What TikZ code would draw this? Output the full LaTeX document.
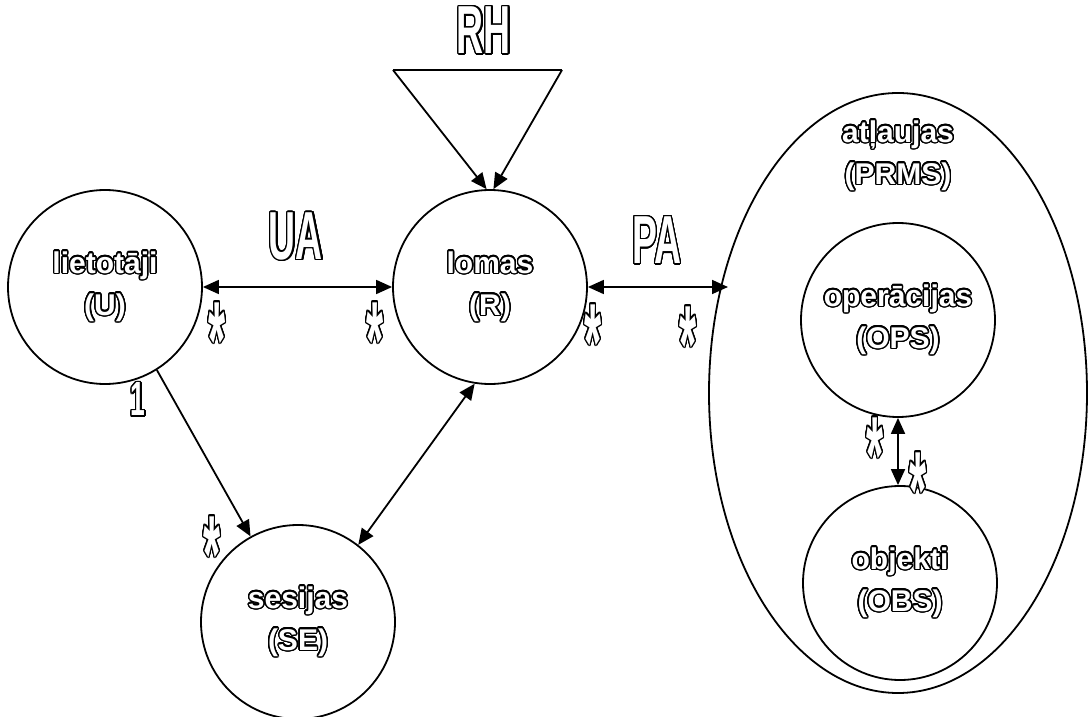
\documentclass[tikz,border=0pt]{standalone}
\usepackage{fontspec}
\setmainfont{Liberation Sans}
\newfontfamily\narrowfont[FakeStretch=0.55]{Liberation Sans}
\newfontfamily\starfamily[FakeStretch=0.4]{Liberation Sans}
\usepackage[copies]{contour}
\contourlength{1.4pt}
\contournumber{24}
\usetikzlibrary{arrows.meta,shapes.geometric}
\newcommand\olt[1]{\contour{black}{#1}}
\tikzset{
  set/.style={circle,draw,minimum size=194pt,inner sep=0pt,align=center,text=white,
    font=\fontsize{30}{42}\selectfont\bfseries},
  rel/.style={text=white,inner sep=0pt,font=\narrowfont\fontsize{68}{68}\selectfont\bfseries},
  mult/.style={text=white,inner sep=0pt,anchor=base,yshift=-60pt,
    font=\starfamily\fontsize{110}{110}\selectfont\bfseries}
}
\begin{document}
\begin{tikzpicture}[x=1pt,y=-1pt,line join=round,line width=1.8pt,>={Triangle[length=16pt,width=14pt]}]
\useasboundingbox (0,0) rectangle (1088,717);

\node[set] (users) at (105,287) {\olt{lietotāji}\\\olt{(U)}};
\node[set] (roles) at (490,287) {\olt{lomas}\\\olt{(R)}};
\node[set] (sessions) at (298,622) {\olt{sesijas}\\\olt{(SE)}};
\node[ellipse,draw,minimum width=378pt,minimum height=600pt,inner sep=0pt] (prms) at (898,393) {};
\node[set] (ops) at (898,320) {\olt{operācijas}\\\olt{(OPS)}};
\node[set] (objs) at (900,583) {\olt{objekti}\\\olt{(OBS)}};
\node[set,draw=none,minimum size=0pt] (prmsname) at (898,156) {\olt{atļaujas}\\\olt{(PRMS)}};

% role hierarchy
\coordinate (rhl) at (393,70);
\coordinate (rhr) at (562,70);
\draw (rhl) -- (rhr);
\draw[->] (rhl) -- (roles.92);
\draw[->] (rhr) -- (roles.88);
\node[rel] (rh) at (484,31) {\olt{RH}};

% assignments
\draw[<->] (users.east) -- (roles.west);
\node[rel] (ua) at (296,237) {\olt{UA}};
\coordinate (paend) at (728,287);
\draw[<->] (roles.east) -- (paend);
\node[rel] (pa) at (657,241) {\olt{PA}};
\draw[->] (users.-58) -- (sessions.119);
\draw[<->] (sessions.52) -- (roles.-99);
\draw[<->] (ops.south) -- (ops.south |- objs.north);

% multiplicities
\node[rel,font=\narrowfont\fontsize{48}{48}\selectfont\bfseries] (one) at (138,400) {\olt{1}};
\node[mult] (m1) at (217,318) {\olt{*}};
\node[mult] (m2) at (375,318) {\olt{*}};
\node[mult] (m3) at (593,320) {\olt{*}};
\node[mult] (m4) at (688,322) {\olt{*}};
\node[mult] (m5) at (875,433) {\olt{*}};
\node[mult] (m6) at (918,468) {\olt{*}};
\node[mult] (m7) at (212,532) {\olt{*}};
\end{tikzpicture}
\end{document}
